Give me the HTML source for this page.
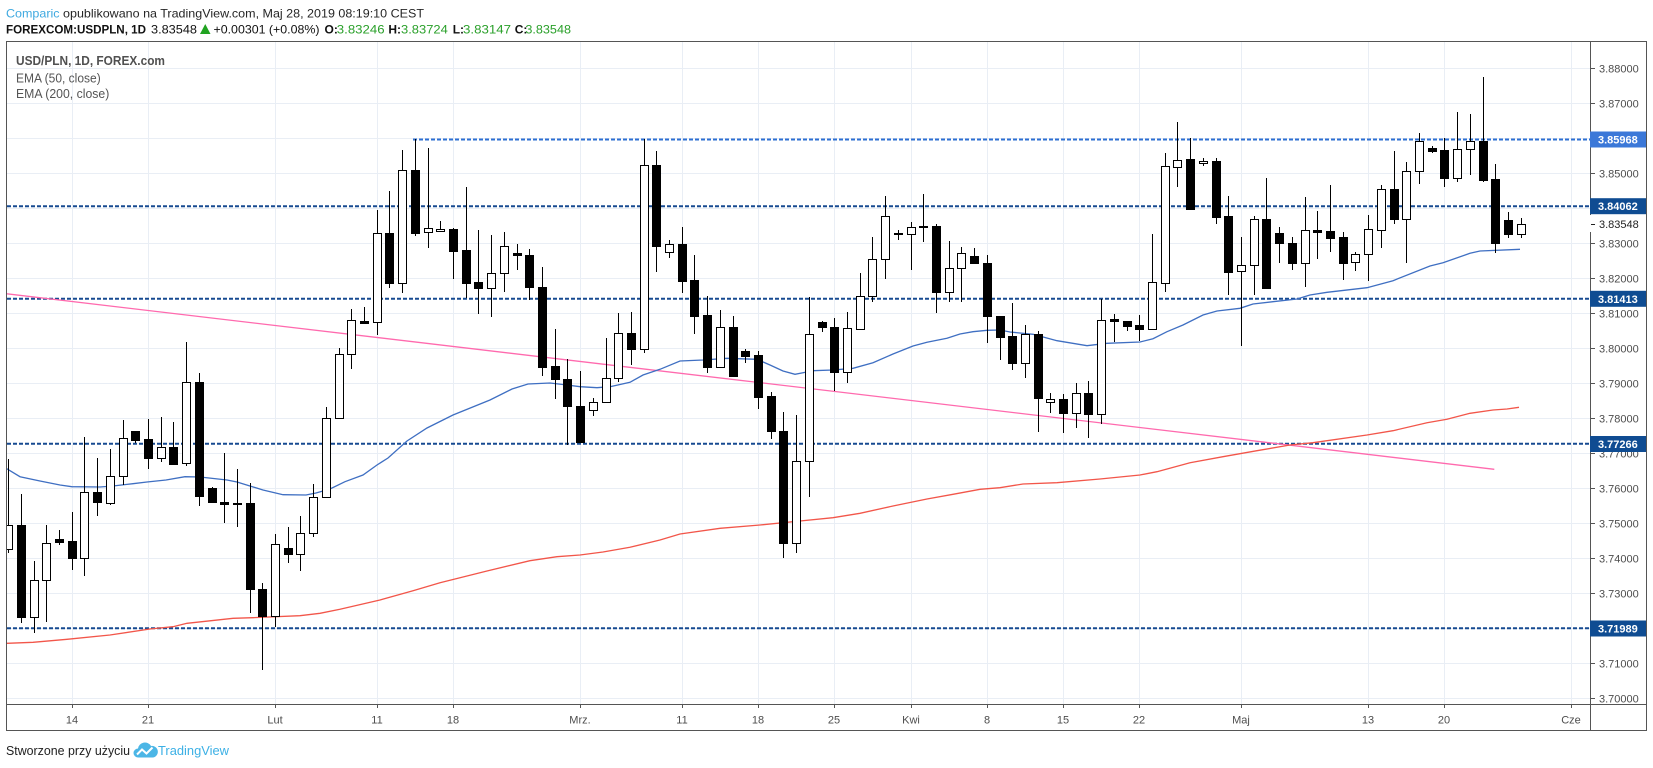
<!DOCTYPE html>
<html><head><meta charset="utf-8"><style>
html,body{margin:0;padding:0;background:#fff;}
svg{display:block;font-family:"Liberation Sans",sans-serif;}
</style></head><body>
<svg width="1653" height="768" viewBox="0 0 1653 768" xmlns="http://www.w3.org/2000/svg">
<defs><clipPath id="pc"><rect x="7" y="42" width="1583" height="662"/></clipPath></defs>
<rect width="1653" height="768" fill="#fff"/>
<!-- header -->
<text x="6" y="17.4" font-size="12" fill="#262626" textLength="418" lengthAdjust="spacingAndGlyphs"><tspan fill="#3fa9e0">Comparic</tspan> opublikowano na TradingView.com, Maj 28, 2019 08:19:10 CEST</text>
<g font-size="12" fill="#111">
<text x="6" y="33.4" font-weight="bold" textLength="140" lengthAdjust="spacingAndGlyphs">FOREXCOM:USDPLN, 1D</text>
<text x="151" y="33.4" textLength="46" lengthAdjust="spacingAndGlyphs">3.83548</text>
<polygon points="200,34 210.5,34 205.25,24" fill="#21a321"/>
<text x="213.5" y="33.4" textLength="106" lengthAdjust="spacingAndGlyphs">+0.00301 (+0.08%)</text>
<text x="324.5" y="33.4" font-weight="bold">O:</text>
<text x="336.8" y="33.4" fill="#2aa02a" textLength="47.8" lengthAdjust="spacingAndGlyphs">3.83246</text>
<text x="388.4" y="33.4" font-weight="bold">H:</text>
<text x="401" y="33.4" fill="#2aa02a" textLength="46.8" lengthAdjust="spacingAndGlyphs">3.83724</text>
<text x="452.7" y="33.4" font-weight="bold">L:</text>
<text x="463" y="33.4" fill="#2aa02a" textLength="48" lengthAdjust="spacingAndGlyphs">3.83147</text>
<text x="514.7" y="33.4" font-weight="bold">C:</text>
<text x="525.4" y="33.4" fill="#2aa02a" textLength="45.6" lengthAdjust="spacingAndGlyphs">3.83548</text>
</g>
<!-- grid -->
<g stroke="#e9eef5" stroke-width="1">
<path d="M7 68.5H1590M7 103.5H1590M7 138.5H1590M7 173.5H1590M7 208.5H1590M7 243.5H1590M7 278.5H1590M7 313.5H1590M7 348.5H1590M7 383.5H1590M7 418.5H1590M7 453.5H1590M7 488.5H1590M7 523.5H1590M7 558.5H1590M7 593.5H1590M7 628.5H1590M7 663.5H1590M7 698.5H1590"/>
<path d="M72.5 42V704M148.5 42V704M275.5 42V704M377.5 42V704M453.5 42V704M580.5 42V704M682.5 42V704M758.5 42V704M834.5 42V704M911.5 42V704M987.5 42V704M1063.5 42V704M1139.5 42V704M1241.5 42V704M1368.5 42V704M1444.5 42V704M1571.5 42V704"/>
</g>
<!-- legend -->
<text x="16" y="65" font-size="12.5" font-weight="bold" fill="#505050" textLength="149" lengthAdjust="spacingAndGlyphs">USD/PLN, 1D, FOREX.com</text>
<text x="16" y="82.4" font-size="12.5" fill="#555" textLength="84.7" lengthAdjust="spacingAndGlyphs">EMA (50, close)</text>
<text x="16" y="98.2" font-size="12.5" fill="#555" textLength="93.3" lengthAdjust="spacingAndGlyphs">EMA (200, close)</text>
<g clip-path="url(#pc)">
<!-- horizontal dotted levels -->
<g fill="none" stroke-width="2" stroke-dasharray="4 2">
<path d="M413 139.5H1590" stroke="#2d6fd2"/>
<path d="M7 206.3H1590M7 298.7H1590M7 443.8H1590M7 628.3H1590" stroke="#174a91"/>
</g>
<!-- trendline -->
<path d="M6.7 293.8L1494.3 469.3" stroke="#ff6aae" stroke-width="1.3" fill="none"/>
<!-- EMA200 -->
<polyline fill="none" stroke="#f2564a" stroke-width="1.3" points="6.7,643.3 33,642.3 67,639.3 110,635 150,629 173,626.7 187,623.3 233,618.3 253,617.7 300,615.7 320,613.3 340,609.3 380,600 413,590.7 440,582.7 487,571 530,560.7 557,556.7 580,555 603,552 630,547.3 660,540 680,534 720,528.3 760,525 800,521 833,517.7 860,513.3 893,506 927,499 953,494.3 980,489.3 1000,487.7 1023,484 1057,482.7 1100,479 1140,475 1157,471.7 1190,462.7 1223,456.7 1257,450.7 1290,445 1313,442.7 1367,435 1393,430.7 1427,422.7 1447,419.3 1470,413.3 1493,410 1507,409 1519,407.3"/>
<!-- EMA50 -->
<polyline fill="none" stroke="#3f6fc2" stroke-width="1.3" points="6.7,468.7 20,476.7 40,481 60,485 71.7,486.7 100,487 113,486 133,483.7 147,482 166,480 185,476.7 200,477 227,480 237,482 263,490 283,494.7 306,495 316,493 330,489 345,481.7 363,475 377,465 388,458 407,441 427,428 453,415 490,400 512,389 528,384 550,383 567,385 580,386.7 597,387.7 610,386.7 630,382.3 643,375 660,369.3 680,361 703,360 727,358.3 757,359.3 770,365 783,371 795,374.3 803,372.7 813,370.7 833,370 853,368.3 873,362.7 893,354 913,346 927,342.3 947,338.3 960,334 973,331.7 987,330.3 1000,330 1010,332 1033,334.3 1057,340.7 1087,345.7 1107,343.3 1140,342 1153,338.7 1167,331.7 1183,325 1203,315 1217,311 1240,308.3 1253,304 1273,301.7 1297,299 1310,295 1327,292.3 1367,287.7 1393,280.7 1430,266 1443,262.7 1470,253.3 1480,251 1520,249.3"/>
<!-- wicks -->
<path fill="none" stroke="#000" stroke-width="1" d="M8.5 459V553M21.5 494V623M34.5 561V633M46.5 525V622M59.5 530V545M72.5 512V570M84.5 437V576M97.5 458V516M110.5 449V505M123.5 420V485M135.5 431V443M148.5 419V469M161.5 417V462M173.5 422V465M186.5 342V466M199.5 373V506M212.5 487V502M224.5 453V523M237.5 469V527M250.5 483V613M262.5 583V670M275.5 534V627M288.5 527V563M300.5 516V571M313.5 484V537M326.5 407V497M339.5 348V418M351.5 309V369M364.5 307V323M377.5 210V335M389.5 191V288M402.5 150V293M415.5 139V236M428.5 148V248M440.5 221V232M453.5 228V279M466.5 187V298M478.5 230V314M491.5 235V317M504.5 232V292M517.5 244V270M529.5 249V300M542.5 267V376M555.5 329V399M567.5 359V445M580.5 371V442M593.5 398V416M606.5 338V402M618.5 313V382M631.5 312V365M644.5 139V353M656.5 151V272M669.5 240V258M682.5 227V293M694.5 255V334M707.5 296V373M720.5 310V368M733.5 316V376M745.5 349V363M758.5 351V409M771.5 392V439M783.5 412V558M796.5 415V553M809.5 297V497M822.5 321V332M834.5 318V391M847.5 312V383M860.5 273V329M872.5 237V302M885.5 196V279M898.5 230V240M911.5 222V270M923.5 194V242M936.5 224V313M949.5 241V302M961.5 247V302M974.5 248V263M987.5 255V343M1000.5 316V360M1012.5 303V370M1025.5 325V378M1038.5 331V432M1050.5 393V413M1063.5 394V433M1076.5 383V428M1088.5 381V438M1101.5 299V424M1114.5 314V342M1127.5 321V331M1139.5 315V341M1152.5 234V329M1165.5 153V292M1177.5 122V187M1190.5 138V209M1203.5 158V166M1216.5 158V224M1228.5 196V295M1241.5 237V346M1254.5 216V295M1266.5 178V289M1279.5 227V263M1292.5 237V270M1305.5 197V287M1317.5 211V259M1330.5 185V252M1343.5 232V280M1355.5 252V271M1368.5 215V281M1381.5 185V248M1394.5 151V224M1406.5 162V263M1419.5 133V184M1432.5 146V153M1444.5 138V187M1457.5 112V182M1470.5 114V175M1483.5 77V182M1495.5 164V253M1508.5 212V238M1521.5 218V238"/>
<!-- black bodies -->
<path fill="#000" d="M17 525h9v93h-9zM55 539h9v4h-9zM68 541h9v18h-9zM93 492h9v11h-9zM131 431h9v10h-9zM144 439h9v20h-9zM169 447h9v18h-9zM195 382h9v115h-9zM208 488h9v15h-9zM220 502h9v3h-9zM246 503h9v87h-9zM258 589h9v28h-9zM284 548h9v7h-9zM360 321h9v3h-9zM385 233h9v51h-9zM411 170h9v64h-9zM449 229h9v23h-9zM462 250h9v34h-9zM474 282h9v7h-9zM513 253h9v3h-9zM525 255h9v33h-9zM538 287h9v81h-9zM551 366h9v14h-9zM563 379h9v28h-9zM576 406h9v37h-9zM627 333h9v17h-9zM652 165h9v82h-9zM678 244h9v38h-9zM690 280h9v37h-9zM703 315h9v53h-9zM729 327h9v50h-9zM741 351h9v6h-9zM754 355h9v43h-9zM767 396h9v36h-9zM779 431h9v113h-9zM818 322h9v6h-9zM830 327h9v46h-9zM894 233h9v2h-9zM919 226h9v2h-9zM932 226h9v67h-9zM970 256h9v8h-9zM983 263h9v54h-9zM996 316h9v22h-9zM1008 336h9v28h-9zM1034 334h9v65h-9zM1059 399h9v15h-9zM1084 393h9v22h-9zM1110 319h9v3h-9zM1123 321h9v6h-9zM1135 325h9v5h-9zM1186 159h9v51h-9zM1212 161h9v57h-9zM1224 216h9v57h-9zM1262 219h9v70h-9zM1275 233h9v11h-9zM1288 243h9v21h-9zM1313 230h9v3h-9zM1326 231h9v8h-9zM1339 237h9v27h-9zM1390 189h9v31h-9zM1428 148h9v4h-9zM1440 150h9v29h-9zM1479 141h9v40h-9zM1491 179h9v65h-9zM1504 220h9v15h-9z"/>
<!-- white bodies -->
<path fill="#fff" stroke="#000" stroke-width="1" d="M4.5 525.5h8v24h-8zM30.5 580.5h8v37h-8zM42.5 543.5h8v37h-8zM80.5 492.5h8v66h-8zM106.5 476.5h8v27h-8zM119.5 438.5h8v38h-8zM157.5 447.5h8v11h-8zM182.5 382.5h8v81h-8zM233.5 503.5h8v1h-8zM271.5 544.5h8v72h-8zM296.5 533.5h8v21h-8zM309.5 497.5h8v36h-8zM322.5 418.5h8v79h-8zM335.5 354.5h8v64h-8zM347.5 320.5h8v34h-8zM373.5 233.5h8v89h-8zM398.5 170.5h8v113h-8zM424.5 228.5h8v4h-8zM436.5 229.5h8v2h-8zM487.5 273.5h8v15h-8zM500.5 246.5h8v27h-8zM589.5 402.5h8v8h-8zM602.5 378.5h8v24h-8zM614.5 333.5h8v45h-8zM640.5 165.5h8v184h-8zM665.5 244.5h8v8h-8zM716.5 327.5h8v40h-8zM792.5 461.5h8v82h-8zM805.5 334.5h8v127h-8zM843.5 328.5h8v44h-8zM856.5 296.5h8v33h-8zM868.5 259.5h8v37h-8zM881.5 216.5h8v43h-8zM907.5 227.5h8v7h-8zM945.5 268.5h8v24h-8zM957.5 253.5h8v15h-8zM1021.5 334.5h8v29h-8zM1046.5 399.5h8v3h-8zM1072.5 393.5h8v20h-8zM1097.5 320.5h8v94h-8zM1148.5 282.5h8v47h-8zM1161.5 166.5h8v117h-8zM1173.5 160.5h8v7h-8zM1199.5 161.5h8v2h-8zM1237.5 265.5h8v6h-8zM1250.5 219.5h8v46h-8zM1301.5 230.5h8v33h-8zM1351.5 254.5h8v8h-8zM1364.5 229.5h8v25h-8zM1377.5 189.5h8v41h-8zM1402.5 171.5h8v48h-8zM1415.5 141.5h8v30h-8zM1453.5 149.5h8v29h-8zM1466.5 141.5h8v8h-8zM1517.5 224.5h8v10h-8z"/>
</g>
<!-- frame -->
<g fill="none" stroke="#555" stroke-width="1">
<rect x="6.5" y="41.5" width="1640" height="689"/>
<path d="M1590.5 41.5V730.5M6.5 704.5H1646.5"/>
</g>
<!-- price axis ticks -->
<path stroke="#555" stroke-width="1" d="M1591 68.5h4M1591 103.5h4M1591 173.5h4M1591 224.5h4M1591 243.5h4M1591 278.5h4M1591 313.5h4M1591 348.5h4M1591 383.5h4M1591 418.5h4M1591 453.5h4M1591 488.5h4M1591 523.5h4M1591 558.5h4M1591 593.5h4M1591 663.5h4M1591 698.5h4"/>
<!-- white patch at current price label -->
<rect x="1590" y="215" width="56" height="17" fill="#fff"/>
<path stroke="#222" stroke-width="1" d="M1591 224.5h4"/>
<g font-size="11" fill="#4d4d4d">
<text x="1599" y="72.3">3.88000</text>
<text x="1599" y="107.3">3.87000</text>
<text x="1599" y="177.3">3.85000</text>
<text x="1599" y="228" fill="#222">3.83548</text>
<text x="1599" y="247.3">3.83000</text>
<text x="1599" y="282.3">3.82000</text>
<text x="1599" y="317.3">3.81000</text>
<text x="1599" y="352.3">3.80000</text>
<text x="1599" y="387.3">3.79000</text>
<text x="1599" y="422.3">3.78000</text>
<text x="1599" y="457.3">3.77000</text>
<text x="1599" y="492.3">3.76000</text>
<text x="1599" y="527.3">3.75000</text>
<text x="1599" y="562.3">3.74000</text>
<text x="1599" y="597.3">3.73000</text>
<text x="1599" y="667.3">3.71000</text>
<text x="1599" y="702.3">3.70000</text>
</g>
<!-- level boxes -->
<rect x="1590" y="131.5" width="56" height="16" fill="#3b78d8"/>
<rect x="1590" y="198.2" width="56" height="16" fill="#0f4c92"/>
<rect x="1590" y="290.8" width="56" height="16" fill="#0f4c92"/>
<rect x="1590" y="436" width="56" height="16" fill="#0f4c92"/>
<rect x="1590" y="620.5" width="56" height="16" fill="#0f4c92"/>
<g font-size="11" fill="#fff" font-weight="bold">
<text x="1598" y="143.4">3.85968</text>
<text x="1598" y="210.1">3.84062</text>
<text x="1598" y="302.8">3.81413</text>
<text x="1598" y="448">3.77266</text>
<text x="1598" y="632.5">3.71989</text>
</g>
<!-- time axis -->
<path stroke="#555" stroke-width="1" d="M72.5 705v3M148.5 705v3M275.5 705v3M377.5 705v3M453.5 705v3M580.5 705v3M682.5 705v3M758.5 705v3M834.5 705v3M911.5 705v3M987.5 705v3M1063.5 705v3M1139.5 705v3M1241.5 705v3M1368.5 705v3M1444.5 705v3M1571.5 705v3"/>
<g font-size="11" fill="#4d4d4d" text-anchor="middle">
<text x="72" y="723.5">14</text>
<text x="148" y="723.5">21</text>
<text x="275" y="723.5">Lut</text>
<text x="377" y="723.5">11</text>
<text x="453" y="723.5">18</text>
<text x="580" y="723.5">Mrz.</text>
<text x="682" y="723.5">11</text>
<text x="758" y="723.5">18</text>
<text x="834" y="723.5">25</text>
<text x="911" y="723.5">Kwi</text>
<text x="987" y="723.5">8</text>
<text x="1063" y="723.5">15</text>
<text x="1139" y="723.5">22</text>
<text x="1241" y="723.5">Maj</text>
<text x="1368" y="723.5">13</text>
<text x="1444" y="723.5">20</text>
<text x="1571" y="723.5">Cze</text>
</g>
<!-- footer -->
<text x="6" y="755" font-size="13" fill="#222" textLength="124" lengthAdjust="spacingAndGlyphs">Stworzone przy użyciu</text>
<path d="M138 757.5a4.5 4.5 0 0 1 0-9a7 7 0 0 1 13-2.5a5.5 5.5 0 0 1 2 11.5z" fill="#4cb6e6"/>
<polyline points="137,754.5 142,749.5 146.5,753.5 152.5,747.5" fill="none" stroke="#fff" stroke-width="2"/>
<text x="158" y="755" font-size="13" fill="#3cb0e5" textLength="71" lengthAdjust="spacingAndGlyphs">TradingView</text>
</svg>
</body></html>
